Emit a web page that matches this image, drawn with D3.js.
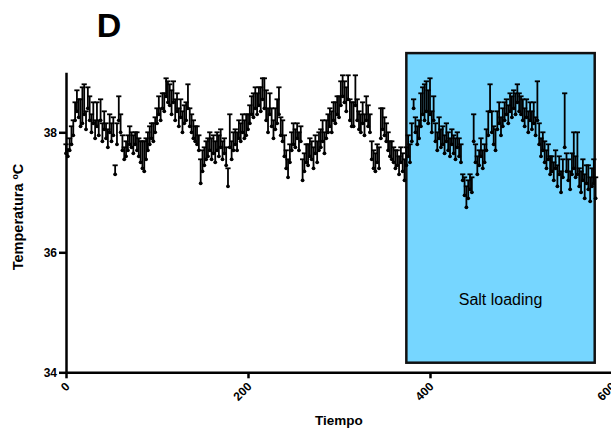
<!DOCTYPE html>
<html lang="es">
<head>
<meta charset="utf-8">
<script src="https://d3js.org/d3.v7.min.js"></script>
<style>
    body { margin: 0; background: #fff; }
    svg { display: block; font-family: "Liberation Sans", Arial, Helvetica, sans-serif; }
    .axis path, .axis line { stroke: #000; stroke-width: 2.5px; }
    .axis text { font-size: 12px; font-weight: bold; fill: #000; }
    .bar { stroke: #000; stroke-width: 1.8px; }
</style>
</head>
<body>
<svg width="611" height="432"></svg>
<script>

// tiempo: una medida cada 2 unidades
var tiempo = d3.range(0, 584, 2);

// temperatura media
var media = [
    37.65, 37.6, 37.7, 37.8, 37.95, 38.2, 38.35, 38.25, 38.1, 38.15,
    38.3, 38.05, 38.4, 38.2, 38.0, 38.15, 37.9, 38.1, 37.95, 38.2,
    37.85, 38.05, 37.9, 37.75, 38.0, 37.85, 37.95, 37.3, 37.8, 38.2,
    38.0, 37.7, 37.55, 37.6, 37.7, 37.8, 37.75, 37.65, 37.8, 37.7,
    37.6, 37.5, 37.4, 37.35, 37.55, 37.7, 37.8, 37.9, 37.85, 38.0,
    38.15, 38.3, 38.2, 38.4, 38.35, 38.6, 38.5, 38.45, 38.3, 38.5,
    38.2, 38.35, 38.1, 38.25, 38.0, 38.15, 38.2, 38.4, 38.1, 38.0,
    37.9, 37.85, 37.8, 37.7, 37.15, 37.35, 37.45, 37.55, 37.6, 37.7,
    37.55, 37.65, 37.5, 37.7, 37.6, 37.75, 37.55, 37.65, 37.45, 37.1,
    37.75, 37.55, 37.7, 37.8, 37.7, 37.9, 37.85, 38.0, 37.9, 37.95,
    38.05, 38.15, 38.3, 38.25, 38.4, 38.3, 38.45, 38.35, 38.55, 38.4,
    38.2, 38.0, 38.3, 38.1, 37.9, 38.05, 38.15, 38.3, 37.95, 37.85,
    37.6, 37.4, 37.25, 37.5, 37.7, 37.8, 37.75, 37.9, 37.7, 37.85,
    37.2, 37.35, 37.5, 37.45, 37.6, 37.55, 37.4, 37.65, 37.5, 37.7,
    37.75, 37.85, 37.65, 37.9, 38.0, 38.1, 38.0, 38.2, 38.15, 38.3,
    38.25, 38.45, 38.6, 38.5, 38.35, 38.55, 38.2, 38.1, 38.1, 38.45,
    38.2, 38.05, 38.0, 38.15, 37.95, 38.2, 38.1, 38.0, 37.55, 37.4,
    37.35, 37.5, 37.4, 37.9, 38.05, 37.95, 37.85, 37.7, 37.6, 37.55,
    37.5, 37.4, 37.45, 37.3, 37.5, 37.35, 37.2, 37.45, 37.6, 37.5,
    37.85, 38.4, 38.0, 37.8, 37.9, 38.1, 38.3, 38.2, 38.35, 38.15,
    38.3, 38.0, 38.2, 37.85, 37.7, 37.9, 37.75, 37.8, 37.65, 37.85,
    37.7, 37.6, 37.8, 37.65, 37.55, 37.75, 37.6, 37.5, 37.2, 36.95,
    36.75, 36.9, 37.05, 37.0, 37.85, 37.5, 37.3, 37.45, 37.6, 37.4,
    37.5, 37.7, 37.95, 38.35, 38.0, 37.8, 37.7, 38.05, 38.15, 37.95,
    38.1, 38.2, 38.3, 38.15, 38.35, 38.25, 38.4, 38.3, 38.5, 38.35,
    38.3, 38.2, 38.1, 38.25, 38.0, 38.2, 38.05, 38.15, 37.95, 38.2,
    37.8, 37.6, 37.7, 37.5, 37.4, 37.55, 37.3, 37.35, 37.2, 37.4,
    37.1, 37.3, 37.0, 37.25, 37.75, 37.35, 37.2, 37.05, 37.3, 37.4,
    37.25, 37.3, 37.1, 37.0, 37.2, 36.9, 37.15, 37.05, 36.85, 37.1,
    37.15, 36.9
];

// error (SEM), solo hacia arriba
var error = [
    0.15, 0.12, 0.2, 0.3, 0.25, 0.3, 0.35, 0.3, 0.45, 0.6,
    0.5, 0.3, 0.35, 0.4, 0.3, 0.35, 0.3, 0.4, 0.25, 0.35,
    0.3, 0.3, 0.25, 0.3, 0.3, 0.3, 0.3, 0.15, 0.35, 0.4,
    0.3, 0.25, 0.2, 0.25, 0.25, 0.3, 0.25, 0.3, 0.2, 0.3,
    0.3, 0.35, 0.45, 0.5, 0.35, 0.3, 0.3, 0.25, 0.3, 0.25,
    0.25, 0.3, 0.2, 0.25, 0.3, 0.3, 0.35, 0.35, 0.4, 0.35,
    0.35, 0.3, 0.3, 0.3, 0.35, 0.3, 0.3, 0.4, 0.3, 0.3,
    0.3, 0.25, 0.3, 0.25, 0.4, 0.35, 0.3, 0.3, 0.3, 0.3,
    0.35, 0.3, 0.35, 0.3, 0.35, 0.3, 0.3, 0.25, 0.3, 0.3,
    0.55, 0.3, 0.3, 0.25, 0.3, 0.3, 0.3, 0.3, 0.3, 0.35,
    0.25, 0.3, 0.3, 0.4, 0.35, 0.35, 0.3, 0.4, 0.35, 0.5,
    0.5, 0.4, 0.35, 0.3, 0.3, 0.35, 0.4, 0.45, 0.3, 0.35,
    0.35, 0.3, 0.3, 0.3, 0.3, 0.35, 0.3, 0.25, 0.3, 0.25,
    0.35, 0.3, 0.3, 0.35, 0.3, 0.3, 0.35, 0.3, 0.35, 0.3,
    0.3, 0.35, 0.35, 0.3, 0.3, 0.3, 0.35, 0.3, 0.35, 0.3,
    0.35, 0.4, 0.35, 0.35, 0.4, 0.4, 0.35, 0.4, 0.4, 0.5,
    0.35, 0.3, 0.3, 0.35, 0.35, 0.4, 0.35, 0.3, 0.3, 0.3,
    0.3, 0.3, 0.35, 0.5, 0.35, 0.3, 0.3, 0.3, 0.25, 0.3,
    0.25, 0.3, 0.25, 0.3, 0.25, 0.3, 0.35, 0.3, 0.35, 0.3,
    0.3, 0.15, 0.25, 0.3, 0.3, 0.55, 0.45, 0.6, 0.5, 0.55,
    0.6, 0.35, 0.4, 0.3, 0.3, 0.35, 0.3, 0.3, 0.3, 0.3,
    0.3, 0.3, 0.25, 0.3, 0.35, 0.25, 0.3, 0.3, 0.1, 0.3,
    0.35, 0.3, 0.25, 0.25, 0.45, 0.3, 0.3, 0.25, 0.3, 0.3,
    0.3, 0.35, 0.4, 0.45, 0.35, 0.3, 0.35, 0.3, 0.35, 0.3,
    0.3, 0.3, 0.25, 0.3, 0.3, 0.35, 0.3, 0.35, 0.3, 0.3,
    0.3, 0.35, 0.3, 0.3, 0.35, 0.3, 0.3, 0.35, 0.3, 0.65,
    0.35, 0.3, 0.3, 0.35, 0.3, 0.25, 0.3, 0.25, 0.3, 0.3,
    0.35, 0.3, 0.35, 0.3, 0.9, 0.3, 0.35, 0.3, 0.35, 0.6,
    0.35, 0.7, 0.3, 0.35, 0.35, 0.4, 0.3, 0.4, 0.4, 0.3,
    0.4, 0.35
];

var xTicks = [0, 200, 400, 600];
var yTicks = [34, 36, 38];
var saltLoading = [374, 581];   // inicio / fin del periodo
var saltRango = [34.16, 39.32];

var svg = d3.select("svg");

var x = d3.scaleLinear().domain([0, 600]).range([66, 612]);
var y = d3.scaleLinear().domain([34, 39]).range([372.3, 72.3]);

// periodo salt loading
svg.append("rect")
    .attr("x", x(saltLoading[0]))
    .attr("y", y(saltRango[1]))
    .attr("width", x(saltLoading[1]) - x(saltLoading[0]))
    .attr("height", y(saltRango[0]) - y(saltRango[1]))
    .attr("fill", "#76d6ff")
    .attr("stroke", "#111")
    .attr("stroke-width", 2.5);

svg.append("text")
    .attr("x", (x(saltLoading[0]) + x(saltLoading[1])) / 2)
    .attr("y", 305)
    .attr("text-anchor", "middle")
    .style("font-size", "16px")
    .text("Salt loading");

// puntos con barra de error
var puntos = tiempo.map(function (t, i) { return {t: t, m: media[i], e: error[i]}; });

var g = svg.append("g");
var p = g.selectAll(".punto").data(puntos).enter().append("g").attr("class", "punto");

p.append("line").attr("class", "bar")
    .attr("x1", function (d) { return x(d.t); })
    .attr("x2", function (d) { return x(d.t); })
    .attr("y1", function (d) { return y(d.m); })
    .attr("y2", function (d) { return y(d.m + d.e); });

p.append("line").attr("class", "bar")
    .attr("x1", function (d) { return x(d.t) - 2.6; })
    .attr("x2", function (d) { return x(d.t) + 2.6; })
    .attr("y1", function (d) { return y(d.m + d.e); })
    .attr("y2", function (d) { return y(d.m + d.e); });

p.append("circle")
    .attr("cx", function (d) { return x(d.t); })
    .attr("cy", function (d) { return y(d.m); })
    .attr("r", 1.9)
    .attr("fill", "#000");

// ejes
svg.append("g")
    .attr("class", "axis")
    .attr("transform", "translate(0," + y(34) + ")")
    .call(d3.axisBottom(x).tickValues(xTicks).tickSize(6).tickSizeOuter(0))
    .selectAll("text")
    .attr("y", 0)
    .attr("dy", ".35em")
    .attr("text-anchor", "end")
    .attr("transform", "translate(1,12) rotate(-45)");

svg.append("g")
    .attr("class", "axis")
    .attr("transform", "translate(" + x(0) + ",0)")
    .call(d3.axisLeft(y).tickValues(yTicks).tickFormat(d3.format("d"))
        .tickSize(7).tickPadding(2).tickSizeOuter(0));

svg.append("text")
    .attr("x", 339)
    .attr("y", 425)
    .attr("text-anchor", "middle")
    .style("font-size", "13.5px")
    .style("font-weight", "bold")
    .text("Tiempo");

svg.append("text")
    .attr("transform", "translate(23,217) rotate(-90)")
    .attr("text-anchor", "middle")
    .style("font-size", "14.5px")
    .style("font-weight", "bold")
    .text("Temperatura ºC");

svg.append("text")
    .attr("x", 109)
    .attr("y", 37)
    .attr("text-anchor", "middle")
    .style("font-size", "34px")
    .style("font-weight", "bold")
    .text("D");

</script>
</body>
</html>
